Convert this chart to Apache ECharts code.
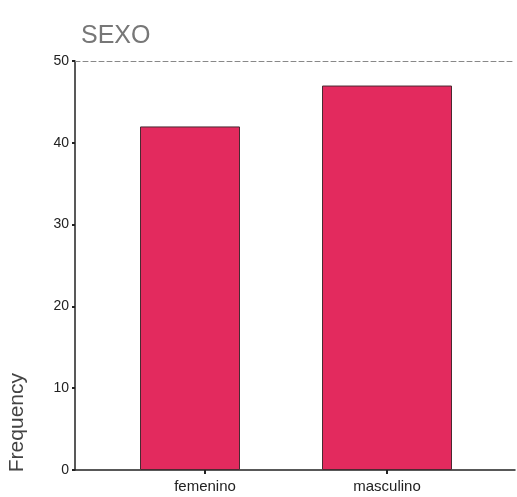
<!DOCTYPE html>
<html><head><meta charset="utf-8">
<script src="https://cdn.jsdelivr.net/npm/echarts@6/dist/echarts.min.js"></script>
<style>html,body{margin:0;padding:0;background:#fff}#c{width:517px;height:497px}</style>
</head><body><div id="c"></div>
<script>
const categories = ['femenino', 'masculino'];
const frequencies = [42, 47];
const barWidths = [100, 130];
const yTicks = [0, 10, 20, 30, 40, 50];

const chart = echarts.init(document.getElementById('c'));
const font = 'Liberation Sans, Arial, sans-serif';
const series = categories.map((c, i) => ({
  type: 'bar', xAxisIndex: 1, yAxisIndex: 1,
  barWidth: barWidths[i], barGap: '-100%',
  data: frequencies.map((v, j) => j === i ? v : '-'),
  itemStyle: { color: '#e32a5e', borderColor: '#4a2a32', borderWidth: 1 },
  silent: true
}));
chart.setOption({
  animation: false,
  title: { text: 'SEXO', left: 76, top: 19, textStyle: { fontFamily: font, fontSize: 25, fontWeight: 'lighter', color: '#777' } },
  grid: [
    { left: 75, right: 2, top: 61, bottom: 27 },
    { left: 114, right: 39, top: 61, bottom: 27 }
  ],
  xAxis: [
    { type: 'value', gridIndex: 0, min: 0, max: 1, axisLabel: { show: false }, axisTick: { show: false }, splitLine: { show: false },
      axisLine: { show: true, onZero: false, lineStyle: { color: '#222', width: 1.5 } } },
    { type: 'category', gridIndex: 1, data: categories, axisLine: { show: false },
      axisTick: { show: true, alignWithLabel: true, length: 4, lineStyle: { color: '#222', width: 2 } },
      axisLabel: { fontFamily: font, fontSize: 15, color: '#222', margin: 9 } },
    { type: 'value', gridIndex: 0, position: 'top', min: 0, max: 1, axisLabel: { show: false }, axisTick: { show: false }, splitLine: { show: false },
      axisLine: { show: true, onZero: false, lineStyle: { color: '#888', width: 1, type: [5, 3] } } }
  ],
  yAxis: [
    { type: 'value', gridIndex: 0, min: 0, max: 50, interval: 10, splitLine: { show: false },
      axisLine: { show: true, lineStyle: { color: '#222', width: 1.5 } },
      axisTick: { show: true, length: 3, lineStyle: { color: '#222', width: 2 } },
      axisLabel: { fontFamily: font, fontSize: 14, color: '#222', margin: 6,
        customValues: yTicks } },
    { type: 'value', gridIndex: 1, min: 0, max: 50, interval: 10, show: false }
  ],
  graphic: [{
    type: 'text', left: 7, top: 373, rotation: Math.PI / 2,
    style: { text: 'Frequency', font: '21px ' + font, fill: '#444' }
  }],
  series: series
});
</script></body></html>
